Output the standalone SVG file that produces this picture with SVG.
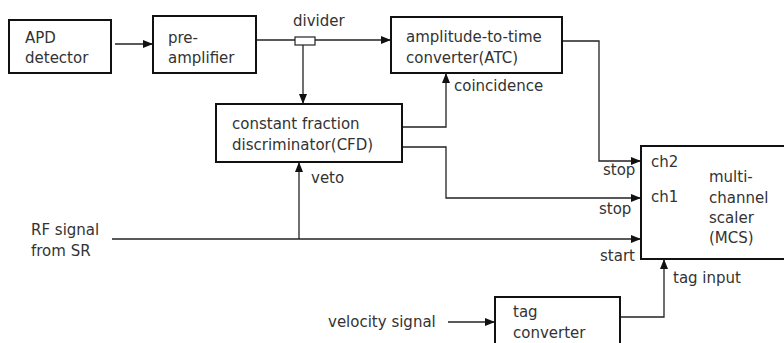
<svg xmlns="http://www.w3.org/2000/svg" width="784" height="343" viewBox="0 0 784 343">
<style>
.box{fill:#fff;stroke:#111;stroke-width:2}
.ln{fill:none;stroke:#222;stroke-width:1.3}
text{font-family:"DejaVu Sans","Noto Sans",sans-serif;font-size:15px;fill:#333}
</style>
<defs>
<marker id="ar" markerUnits="userSpaceOnUse" markerWidth="10" markerHeight="10" viewBox="0 0 10 10" refX="10" refY="5" orient="auto">
<path d="M0,1 L10,5 L0,9 Z" fill="#111"/>
</marker>
</defs>
<rect width="784" height="343" fill="#fff"/>
<g id="connectors">
<path class="ln" d="M115,44 H153" marker-end="url(#ar)"/>
<path class="ln" d="M256,40 H391" marker-end="url(#ar)"/>
<path class="ln" d="M303,45 V104" marker-end="url(#ar)"/>
<path class="ln" d="M402,127 H446 V73" marker-end="url(#ar)"/>
<path class="ln" d="M402,147 H446 V198 H641" marker-end="url(#ar)"/>
<path class="ln" d="M562,41 H599 V161 H641" marker-end="url(#ar)"/>
<path class="ln" d="M112,239 H641" marker-end="url(#ar)"/>
<path class="ln" d="M299,239 V162" marker-end="url(#ar)"/>
<path class="ln" d="M448,322 H495" marker-end="url(#ar)"/>
<path class="ln" d="M620,317 H664 V259" marker-end="url(#ar)"/>
</g>
<g id="divider">
<rect x="295" y="37" width="20" height="8" fill="#fff" stroke="#222" stroke-width="1.2"/>
<text x="293" y="26">divider</text>
</g>
<g id="apd">
<rect class="box" x="9" y="20" width="102" height="53"/>
<text x="25" y="43">APD</text>
<text x="25" y="63">detector</text>
</g>
<g id="preamp">
<rect class="box" x="153" y="16" width="103" height="57"/>
<text x="168" y="43">pre-</text>
<text x="168" y="63">amplifier</text>
</g>
<g id="atc">
<rect class="box" x="391" y="17" width="171" height="56"/>
<text x="406" y="42">amplitude-to-time</text>
<text x="406" y="63">converter(ATC)</text>
</g>
<g id="cfd">
<rect class="box" x="216" y="104" width="186" height="58"/>
<text x="232" y="129">constant fraction</text>
<text x="232" y="150">discriminator(CFD)</text>
</g>
<g id="mcs">
<rect class="box" x="641" y="146" width="150" height="113"/>
<text x="651" y="167">ch2</text>
<text x="651" y="202">ch1</text>
<text x="709" y="182">multi-</text>
<text x="709" y="203">channel</text>
<text x="709" y="223">scaler</text>
<text x="709" y="243">(MCS)</text>
</g>
<g id="tagconv">
<rect class="box" x="495" y="297" width="125" height="52"/>
<text x="513" y="317">tag</text>
<text x="513" y="338">converter</text>
</g>
<g id="labels">
<text x="454" y="91">coincidence</text>
<text x="311" y="183">veto</text>
<text x="31" y="235">RF signal</text>
<text x="31" y="256">from SR</text>
<text x="603" y="175">stop</text>
<text x="599" y="214">stop</text>
<text x="600" y="261">start</text>
<text x="673" y="283">tag input</text>
<text x="328" y="327">velocity signal</text>
</g>
</svg>
